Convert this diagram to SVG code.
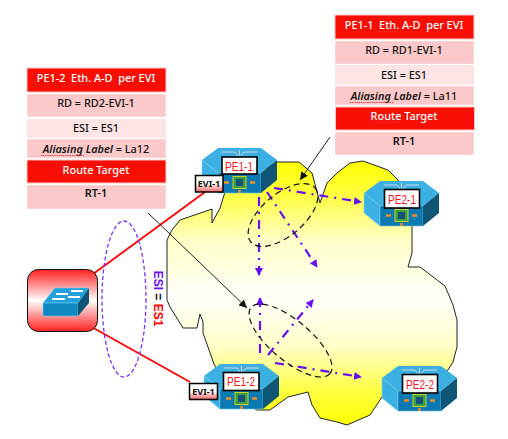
<svg xmlns="http://www.w3.org/2000/svg" xmlns:xlink="http://www.w3.org/1999/xlink" width="508" height="439" viewBox="0 0 508 439">
<style>
text{font-family:"Noto Sans","Liberation Sans",sans-serif;font-size:10.9px;font-weight:500;text-anchor:middle;fill:#111;white-space:pre}
.w{fill:#fff}
.b{font-weight:600}
.rh{fill:#f70f05;stroke:#ffc8c8;stroke-width:1}
.r1{fill:#fbc9c9;stroke:#fff;stroke-width:.5}
.r2{fill:#fee5e5}
.sq{fill:none;stroke:#e03030;stroke-width:1;stroke-dasharray:1.2 1}
.lbl{fill:#fff;stroke:#000;stroke-width:1.6}
.lt{fill:#f0141e;font-size:13px;font-weight:400;font-family:"Liberation Sans",sans-serif}
.evi{fill:url(#tag);stroke:#000;stroke-width:1.5}
.et{font-size:9px;font-weight:700;fill:#111}
.pa{fill:none;stroke:#6a10f0;stroke-width:2.2;stroke-dasharray:9 6 2 6;marker-end:url(#pm)}
.de{fill:none;stroke:#111;stroke-width:1.2;stroke-dasharray:6 4}
.thin{fill:none;stroke:#222;stroke-width:1;marker-end:url(#bm)}
.red{stroke:#f8080a;stroke-width:2;fill:none}
</style>
<defs>
<linearGradient id="cg" gradientUnits="userSpaceOnUse" x1="0" y1="161" x2="0" y2="426">
<stop offset="0" stop-color="#ffff00"/><stop offset=".13" stop-color="#ffff40"/><stop offset=".3" stop-color="#ffffc8"/><stop offset=".52" stop-color="#fffffa"/><stop offset=".7" stop-color="#ffffc8"/><stop offset=".87" stop-color="#ffff40"/><stop offset="1" stop-color="#ffff00"/>
</linearGradient>
<linearGradient id="sw" x1="0" y1="0" x2="0" y2="1">
<stop offset="0" stop-color="#ff2020"/><stop offset=".5" stop-color="#ffffff"/><stop offset="1" stop-color="#ff2020"/>
</linearGradient>
<linearGradient id="tag" x1="0" y1="0" x2="0" y2="1">
<stop offset="0" stop-color="#fff"/><stop offset=".5" stop-color="#fff"/><stop offset="1" stop-color="#f46060"/>
</linearGradient>
<marker id="pm" markerWidth="9" markerHeight="8" refX="7" refY="4" orient="auto" markerUnits="userSpaceOnUse"><path d="M0 0L8 4L0 8z" fill="#6a10f0"/></marker>
<marker id="bm" markerWidth="9" markerHeight="8" refX="8" refY="4" orient="auto" markerUnits="userSpaceOnUse"><path d="M0 0L8 4L0 8z" fill="#111"/></marker>
<g id="dev">
<polygon points="0,12 16,0 59,0 75,12 59,25 16,25" fill="#3cb0e2"/>
<polygon points="0,12 16,25 16,45 0,32" fill="#3cb0e2" stroke="#7fd0ee" stroke-width=".6"/>
<rect x="16" y="25" width="43" height="20" fill="#0b7ab2" stroke="#6cc4e6" stroke-width=".6"/>
<polygon points="59,25 75,12 75,32 59,45" fill="#0f5676"/>
<path d="M20 4H33L36 8M55 4H42L39 8M37.500 2V8" fill="none" stroke="#cfd8dc" stroke-width="1"/>
<path d="M27 34.500L22 34.500M48 34.500L53 34.500M37.500 27V23M37.500 42V45" stroke="#f09020" stroke-width="2.500"/>
<rect x="31" y="28.500" width="13" height="12" fill="#3aa040" stroke="#c8d030" stroke-width="1"/>
<rect x="34" y="31" width="7" height="7" fill="#14507a"/>
</g>
</defs>

<g id="cloud">
<path d="M225 192L220 208L212 223L212 209L180 220L172 230L167 240L167 300L170 307L183 328L197 328L200 314L203 322L203 333L214 364L230 395L257 410L270 410L288 397L308 392L312 405L320 418L337 422L347 425L370 415L382 397L448 370L453 362L457 347L457 320L453 305L445 286L420 267L408 267L412 253L412 225L398 180L388 170L363 161L350 163L337 173L327 183L320 203L312 173L299 162L277 162Z" fill="url(#cg)" stroke="#222" stroke-width="1"/>
</g>

<g id="table-pe1-1">
<rect class="rh" x="335" y="15" width="139" height="24"/>
<rect class="r1" x="335" y="41" width="139" height="23"/>
<rect class="r2" x="335" y="65" width="139" height="20"/>
<rect class="r1" x="335" y="86" width="139" height="19"/>
<rect class="rh" x="335.500" y="107" width="139" height="23"/>
<rect class="r1" x="335" y="132" width="139" height="23"/>
<text class="w" x="404" y="29">PE1-1  Eth. A-D  per EVI</text>
<text x="404" y="54">RD = RD1-EVI-1</text>
<text x="404" y="79">ESI = ES1</text>
<text x="404" y="100"><tspan font-style="italic" font-weight="600">Aliasing Label</tspan> = La11</text>
<text class="w" x="404" y="120">Route Target</text>
<text class="b" x="404" y="145">RT-1</text>
<path class="sq" d="M377 31.500H397M350 102.500H393M370 122H402"/>
</g>

<g id="table-pe1-2">
<rect class="rh" x="27" y="68" width="139" height="24"/>
<rect class="r1" x="27" y="94" width="139" height="23"/>
<rect class="r2" x="27" y="119" width="139" height="19"/>
<rect class="r1" x="27" y="139" width="139" height="19"/>
<rect class="rh" x="27" y="160" width="139" height="23"/>
<rect class="r1" x="27" y="185" width="139" height="24"/>
<text class="w" x="96" y="82">PE1-2  Eth. A-D  per EVI</text>
<text x="96" y="107">RD = RD2-EVI-1</text>
<text x="96" y="132">ESI = ES1</text>
<text x="96" y="153"><tspan font-style="italic" font-weight="600">Aliasing Label</tspan> = La12</text>
<text class="w" x="96" y="174">Route Target</text>
<text class="b" x="96" y="197">RT-1</text>
<path class="sq" d="M69 84.500H89M41 155.500H85M63 176H95"/>
</g>

<g id="connectors">
<path class="red" d="M74 288L205 192"/>
<path class="red" d="M72 316L190 382"/>
<path class="thin" d="M330 137L300 180"/>
<path class="thin" d="M148 213L247 308"/>
<path class="pa" d="M259 197V275"/>
<path class="pa" d="M267 192L317 267"/>
<path class="pa" d="M274 188L361 202"/>
<path class="pa" d="M260 353V298"/>
<path class="pa" d="M268 355L313 300"/>
<path class="pa" d="M275 363L361 377"/>
</g>

<g id="esi-group">
<ellipse cx="124" cy="299" rx="22" ry="78" fill="none" stroke="#7a30f0" stroke-width="1.300" stroke-dasharray="4 2.500"/>
<text transform="translate(153.500 298.500) rotate(90)" style="font-size:12px;font-family:'Liberation Sans',sans-serif;font-weight:700"><tspan fill="#6a10f0">ESI</tspan><tspan fill="#111"> = </tspan><tspan fill="#f00">ES1</tspan></text>
</g>

<g id="ce-switch">
<rect x="27.500" y="269.500" width="70" height="62" rx="11" fill="url(#sw)" stroke="#111" stroke-width="1"/>
<polygon points="43,303 55,288 89,288 78,303" fill="#20a0dc" stroke="#6cd0f0" stroke-width=".6"/>
<polygon points="43,303 78,303 78,316 43,316" fill="#0f88c0" stroke="#6cd0f0" stroke-width=".6"/>
<polygon points="78,303 89,288 89,303 78,316" fill="#0f5676"/>
<path d="M56 294H68M71 291H83M52 299H65M68 297H80" stroke="#fff" stroke-width="2"/>
</g>

<g id="pe1-1">
<use xlink:href="#dev" href="#dev" x="202" y="148"/>
<rect class="lbl" x="222" y="157" width="35" height="17"/>
<text class="lt" x="239" y="170.500" textLength="28" lengthAdjust="spacingAndGlyphs">PE1-1</text>
<rect class="evi" x="195.500" y="175.500" width="27.500" height="16.500"/>
<text class="et" x="209" y="187">EVI-1</text>
</g>
<g id="pe1-2">
<use xlink:href="#dev" href="#dev" x="204" y="364"/>
<rect class="lbl" x="223.500" y="372.500" width="35.500" height="18"/>
<text class="lt" x="241" y="386" textLength="28" lengthAdjust="spacingAndGlyphs">PE1-2</text>
<rect class="evi" x="189.500" y="383.500" width="28" height="16"/>
<text class="et" x="203.500" y="395">EVI-1</text>
</g>
<g id="pe2-1">
<use xlink:href="#dev" href="#dev" x="364" y="181"/>
<rect class="lbl" x="384.500" y="189.500" width="35" height="18.500"/>
<text class="lt" x="402" y="203.500" textLength="28" lengthAdjust="spacingAndGlyphs">PE2-1</text>
</g>
<g id="pe2-2">
<use xlink:href="#dev" href="#dev" x="382" y="366"/>
<rect class="lbl" x="402.500" y="374.500" width="35" height="18.500"/>
<text class="lt" x="420" y="388.500" textLength="28" lengthAdjust="spacingAndGlyphs">PE2-2</text>
</g>

<g id="dashed-ellipses">
<ellipse class="de" cx="283" cy="215" rx="42" ry="21" transform="rotate(-40 283 215)"/>
<ellipse class="de" cx="290.500" cy="340.500" rx="51.500" ry="20" transform="rotate(40 290.500 340.500)"/>
</g>
</svg>
